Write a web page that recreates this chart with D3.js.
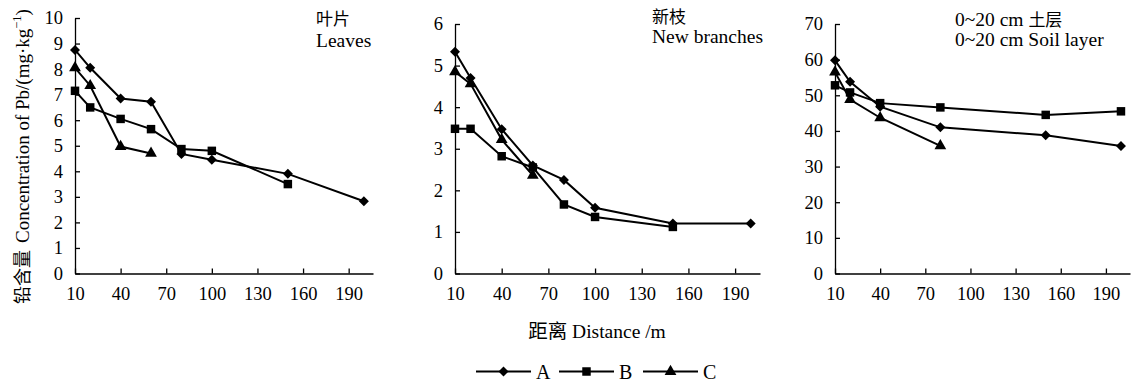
<!DOCTYPE html>
<html>
<head>
<meta charset="utf-8">
<script src="https://cdn.jsdelivr.net/npm/d3@7"></script>
<style>
  html, body { margin: 0; padding: 0; background: #fff; }
  svg { display: block; }
  text, tspan { font-family: "Liberation Serif", "Times New Roman", Times, serif; fill: #000; }
  .cjk { font-family: "Noto Sans CJK SC", sans-serif; }
  .axis path, .axis line { stroke: #000; stroke-width: 1.3; }
  .axis text { font-size: 18.5px; font-family: "Liberation Serif", "Times New Roman", Times, serif; }
</style>
</head>
<body>
<div id="chart"></div>
<script>
// ---- data ----
const distances = [10, 20, 40, 60, 80, 100, 150, 200];
const xTicks = [10, 40, 70, 100, 130, 160, 190];
const seriesNames = ["A", "B", "C"];

// leaves
const leavesA = [8.75, 8.05, 6.85, 6.72, 4.68, 4.45, 3.9, 2.83];
const leavesB = [7.15, 6.5, 6.05, 5.65, 4.87, 4.8, 3.5, null];
const leavesC = [8.05, 7.35, 4.97, 4.7, null, null, null, null];
const leavesTicks = [0, 1, 2, 3, 4, 5, 6, 7, 8, 9, 10];

// new branches
const branchA = [5.33, 4.7, 3.47, 2.6, 2.25, 1.58, 1.2, 1.2];
const branchB = [3.48, 3.48, 2.82, 2.55, 1.66, 1.36, 1.12, null];
const branchC = [4.85, 4.56, 3.22, 2.36, null, null, null, null];
const branchTicks = [0, 1, 2, 3, 4, 5, 6];

// 0~20 cm soil
const soilA = [59.8, 53.8, 46.8, null, 41.0, null, 38.8, 35.8];
const soilB = [52.8, 50.8, 47.8, null, 46.6, null, 44.5, 45.5];
const soilC = [56.5, 48.8, 43.7, null, 35.8, null, null, null];
const soilTicks = [0, 10, 20, 30, 40, 50, 60, 70];

// title parts: [text, isCjk]
const panels = [
  { series: [leavesA, leavesB, leavesC], yMax: 10, yTicks: leavesTicks, x0: 75, x1: 373, yTop: 18,
    title: [{ parts: [["叶片", true]], y: 25 }, { parts: [["Leaves", false]], y: 47 }], tx: 316 },
  { series: [branchA, branchB, branchC], yMax: 6, yTicks: branchTicks, x0: 455, x1: 760, yTop: 24,
    title: [{ parts: [["新枝", true]], y: 23 }, { parts: [["New branches", false]], y: 43 }], tx: 652 },
  { series: [soilA, soilB, soilC], yMax: 70, yTicks: soilTicks, x0: 835, x1: 1130, yTop: 24,
    title: [{ parts: [["0~20 cm ", false], ["土层", true]], y: 26 }, { parts: [["0~20 cm Soil layer", false]], y: 46 }], tx: 955 }
];

const W = 1137, H = 389, yBase = 273.5;

const svg = d3.select("#chart").append("svg")
  .attr("width", W).attr("height", H);

// marker shapes: diamond, square, triangle
const markers = [
  d3.symbol().type(d3.symbolSquare).size(50),
  d3.symbol().type(d3.symbolSquare).size(72),
  d3.symbol().type(d3.symbolTriangle).size(60)
];
const markerRot = [45, 0, 0];

function addParts(textSel, parts, cjkSize) {
  parts.forEach(([s, cjk]) => {
    const t = textSel.append("tspan").attr("class", cjk ? "cjk" : null).text(s);
    if (cjk && cjkSize) t.attr("font-size", cjkSize);
  });
}

panels.forEach(p => {
  const x = d3.scaleLinear().domain([10, 206]).range([p.x0, p.x1]);
  const y = d3.scaleLinear().domain([0, p.yMax]).range([yBase, p.yTop]);
  const g = svg.append("g");

  g.append("g").attr("class", "axis")
    .attr("transform", `translate(0,${yBase})`)
    .call(d3.axisBottom(x).tickValues(xTicks).tickFormat(d3.format("d"))
      .tickSizeInner(-5).tickSizeOuter(0).tickPadding(13.5));

  g.append("g").attr("class", "axis")
    .attr("transform", `translate(${p.x0},0)`)
    .call(d3.axisLeft(y).tickValues(p.yTicks).tickFormat(d3.format("d"))
      .tickSizeInner(-5).tickSizeOuter(0).tickPadding(12));

  const line = d3.line()
    .x(d => x(d.d)).y(d => y(d.v));

  p.series.forEach((vals, i) => {
    const pts = distances.map((d, k) => ({ d: d, v: vals[k] })).filter(o => o.v != null);
    g.append("path").datum(pts)
      .attr("fill", "none").attr("stroke", "#000").attr("stroke-width", 2)
      .attr("d", line);
    g.selectAll(".m" + i).data(pts).enter().append("path")
      .attr("d", markers[i])
      .attr("fill", "#000")
      .attr("transform", d => `translate(${x(d.d)},${y(d.v)}) rotate(${markerRot[i]})`);
  });

  p.title.forEach(t => {
    const tt = g.append("text").attr("x", p.tx).attr("y", t.y).attr("font-size", "19.5px");
    addParts(tt, t.parts, "17px");
  });
});

// y axis title, reads bottom to top
const yt = svg.append("text")
  .attr("transform", "translate(29,304) rotate(-90)")
  .attr("text-anchor", "start");
yt.append("tspan").attr("class", "cjk").attr("font-size", "18px").text("铅含量");
yt.append("tspan").attr("dx", 7).attr("font-size", "19px").text("Concentration of Pb/(mg·kg");
yt.append("tspan").attr("font-size", "12.5px").attr("dy", "-8").text("−1");
yt.append("tspan").attr("font-size", "19px").attr("dy", "8").text(")");

// x axis title
const xt = svg.append("text")
  .attr("x", 597).attr("y", 338)
  .attr("text-anchor", "middle")
  .attr("font-size", "19.5px");
addParts(xt, [["距离", true], ["  Distance /m", false]]);

// legend
const legendX = [476, 559, 643];
const legend = svg.append("g").attr("transform", "translate(0,371.5)");
seriesNames.forEach((name, i) => {
  const lg = legend.append("g").attr("transform", `translate(${legendX[i]},0)`);
  lg.append("line").attr("x1", 0).attr("x2", 55)
    .attr("stroke", "#000").attr("stroke-width", 2);
  lg.append("path").attr("d", markers[i]).attr("fill", "#000")
    .attr("transform", `translate(27.5,0) rotate(${markerRot[i]})`);
  lg.append("text").attr("x", 60).attr("y", 7)
    .attr("font-size", "20px").text(name);
});
</script>
</body>
</html>
